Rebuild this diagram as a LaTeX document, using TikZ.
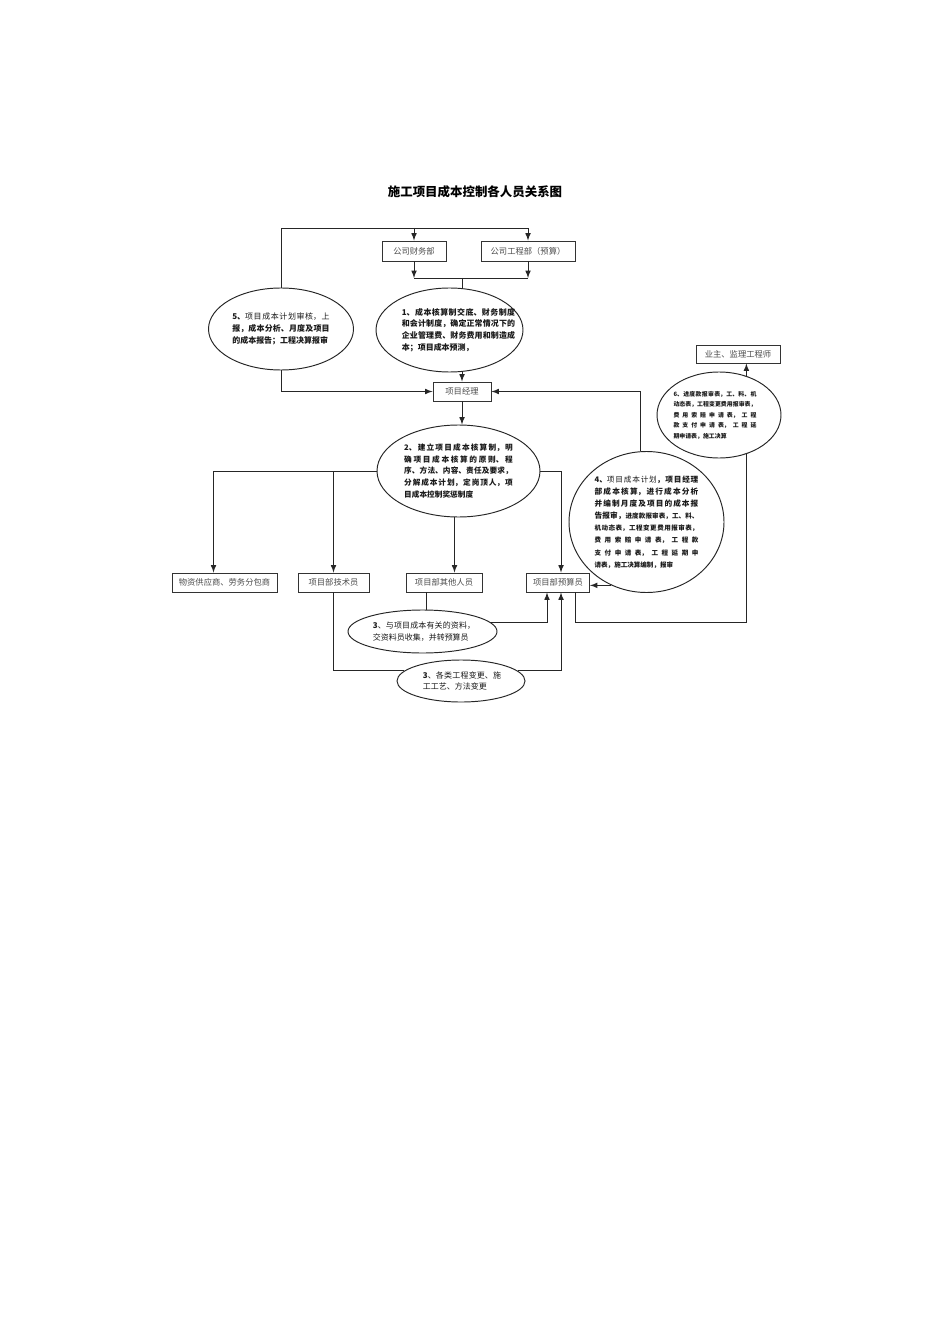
\documentclass[tikz,border=0pt]{standalone}
\usepackage{fontspec}
\newfontfamily\cjk{Noto Sans CJK SC}
\XeTeXlinebreaklocale "zh"
\XeTeXlinebreakskip=0pt plus 1pt
\tolerance=9999
\hbadness=10000
\usetikzlibrary{shapes.geometric}
\begin{document}
\begin{tikzpicture}[x=0.6265pt,y=-0.6265pt,>=latex,
ln/.style={draw=black!85,line width=0.6pt},
bx/.style={draw=black!80,line width=0.6pt,fill=white,inner sep=0pt,text=black!70,font=\cjk\fontsize{5.2}{6}\selectfont},
ov/.style={ellipse,draw=black!85,line width=0.6pt,fill=white,inner sep=0pt},
ovt/.style 2 args={inner sep=0pt,align=justify,text=black!90,font=\cjk\fontsize{#1}{#2}\selectfont}]
\pgfmathsetmacro{\kpx}{0.6265}
\useasboundingbox (0,0) rectangle (950,1344);
\node[font=\cjk\bfseries\fontsize{7.8}{9}\selectfont] (ttl) at (475,192) {施工项目成本控制各人员关系图};
\foreach \nm/\xc/\yc/\kw/\kh/\tx in {fin/414/251/64/20/公司财务部,eng/528/251/94/20/公司工程部（预算）,pm/462/391.5/58/19/项目经理,own/738/354/84/18/业主、监理工程师,mat/224.5/582.5/105/19/物资供应商、劳务分包商,tech/333.5/582.5/71/19/项目部技术员,oth/444/582.5/76/19/项目部其他人员,bud/558/582.5/63/19/项目部预算员}{\node[bx,minimum width=\kw*\kpx pt,minimum height=\kh*\kpx pt](\nm) at (\xc,\yc){\tx};}
\foreach \nm/\xc/\yc/\kw/\kh in {e5/281/329/145/82,e1/449.5/330/147/84,e2/458.5/471/163/92,e6/719/415/124/86,e4/646.5/522/155/141,e3a/422.5/631.5/149/43,e3b/461/681/128/42}{\node[ov,minimum width=\kw*\kpx pt,minimum height=\kh*\kpx pt](\nm) at (\xc,\yc){};}
\node[ovt={5}{7.3},text width=61pt] (t5) at (281,329) {\bfseries 5、{\mdseries 项目成本计划审核，上}\linebreak 报，成本分析、月度及项目\linebreak 的成本报告；工程决算报审};
\node[ovt={5}{7.3},text width=71pt] (t1) at (458.5,330) {\bfseries 1、成本核算制交底、财务制度\linebreak 和会计制度，确定正常情况下的\linebreak 企业管理费、财务费用和制造成\linebreak 本；项目成本预测，};
\node[ovt={4.8}{7.45},text width=68pt] (t2) at (458.5,471) {\bfseries 2、建立项目成本核算制，明\linebreak 确项目成本核算的原则、程\linebreak 序、方法、内容、责任及要求，\linebreak 分解成本计划，定岗顶人，项\linebreak 目成本控制奖惩制度};
\node[ovt={3.7}{6.6},text width=52pt] (t6) at (715,415) {\bfseries 6、进度款报审表，工、料、机\linebreak 动态表，工程变更费用报审表，\linebreak 费用索赔申请表，工程\linebreak 款支付申请表，工程延\linebreak 期申请表，施工决算};
\node[ovt={4.8}{7.6},text width=65pt] (t4) at (646.5,522) {\parfillskip=0pt\bfseries 4、{\mdseries 项目成本计划}，项目经理\linebreak 部成本核算，进行成本分析\linebreak 并编制月度及项目的成本报\linebreak 告报审，{\fontsize{4.1}{7.6}\selectfont 进度款报审表，工、料、\linebreak 机动态表，工程变更费用报审表，\linebreak 费用索赔申请表，工程款\linebreak 支付申请表，工程延期申\linebreak 请表，施工决算编制，报审}};
\node[ovt={5}{8},text width=64pt] (t3a) at (424,631.5) {\textbf{3}、与项目成本有关的资料，\linebreak 交资料员收集，并转预算员};
\node[ovt={5}{7.3},text width=49pt] (t3b) at (462,681) {\textbf{3}、各类工程变更、施\linebreak 工工艺、方法变更};
\coordinate (tp) at (0,228);
\coordinate (jn) at (0,278);
\coordinate (lw) at (0,622);
\draw[ln,->] (e5.north) -- (e5.north |- tp) -| (eng.north);
\draw[ln,->] (fin.north |- tp) -- (fin.north);
\draw[ln,->] (fin.south) -- (fin.south |- jn);
\draw[ln,->] (eng.south) -- (eng.south |- jn);
\draw[ln] (fin.south |- jn) -- (eng.south |- jn);
\draw[ln] (pm.north |- jn) -- (pm.north |- e1.north);
\draw[ln,->] (pm.north |- e1.south) -- (pm.north);
\draw[ln,->] (e5.south) |- (pm.west);
\draw[ln,->] ([shift={(-6,0)}]e4.north) |- (pm.east);
\draw[ln,->] (pm.south) -- (pm.south |- e2.north);
\draw[ln,->] (e2.west) -| ([shift={(-11,0)}]mat.north);
\draw[ln,->] (e2.west -| tech.north) -- (tech.north);
\draw[ln,->] (e2.east) -| ([shift={(3,0)}]bud.north);
\draw[ln,->] ([shift={(-4,0)}]e2.south) -- ([shift={(-4,0)}]e2.south |- oth.north);
\draw[ln] ([shift={(-18,0)}]oth.south) -- ([shift={(-18,0)}]oth.south |- e3a.north);
\draw[ln,->] (e3a.8) -| ([shift={(-11,0)}]bud.south);
\draw[ln] (tech.south) |- (e3b.170);
\draw[ln,->] (e3b.10) -| ([shift={(3,0)}]bud.south);
\draw[ln] ([shift={(17,0)}]bud.south) |- (lw -| e6.-55) -- (e6.-55);
\draw[ln,->] (e6.55) -- (e6.55 |- own.south);
\draw[ln,->] (e4.241) -- (e4.241 -| bud.east);
\end{tikzpicture}
\end{document}
